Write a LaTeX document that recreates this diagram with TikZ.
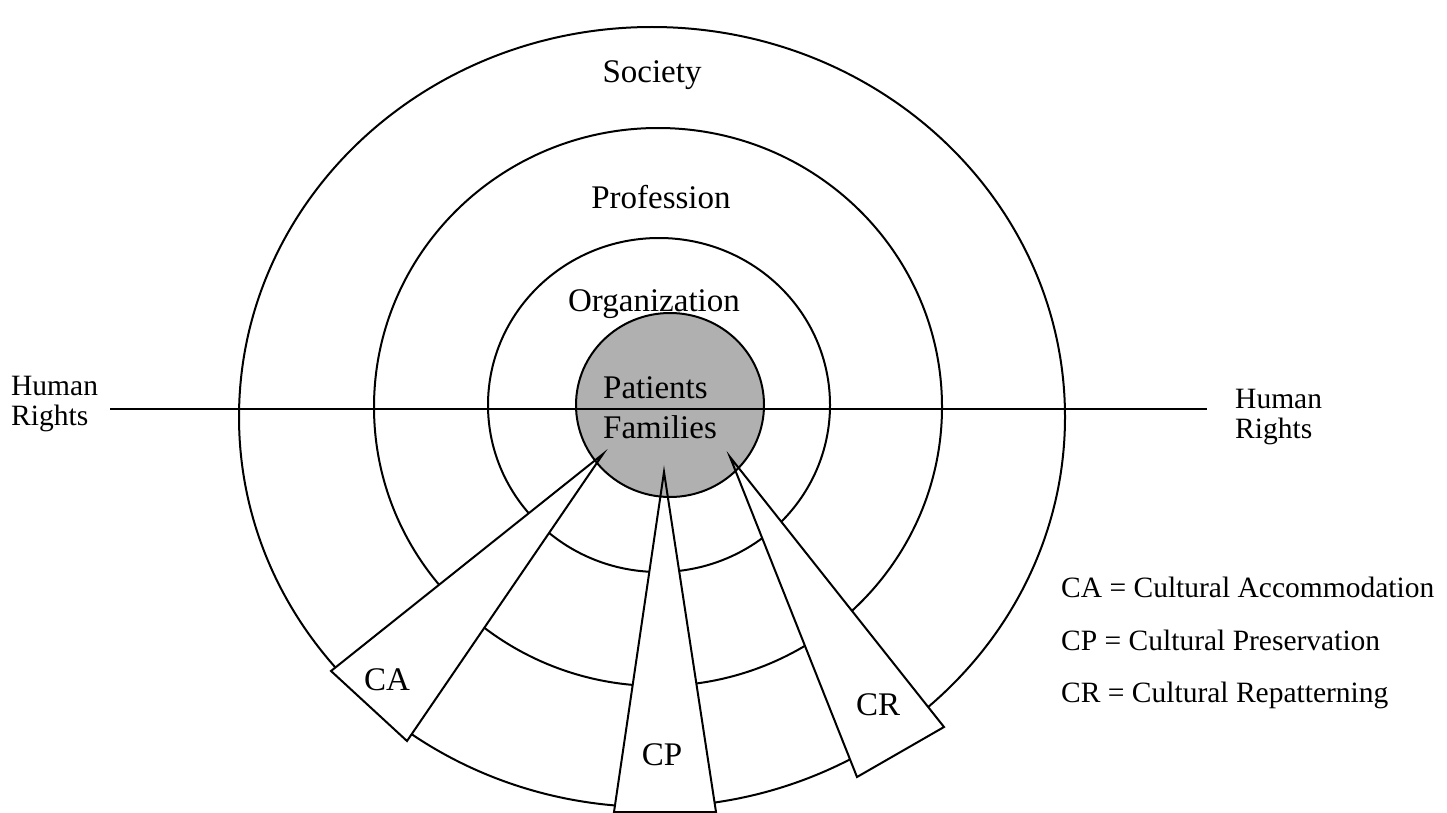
\documentclass[tikz,border=0pt]{standalone}
\usepackage{fontspec}
\setmainfont{Liberation Serif}
\tikzset{
  ring/.style={line width=2pt},
  wedge/.style={line width=2pt, line join=miter},
  lbl/.style={font=\fontsize{33}{36}\selectfont, inner sep=0pt, anchor=base},
  side/.style={font=\fontsize{29.5}{32}\selectfont, inner sep=0pt, anchor=base west},
}
\begin{document}
\begin{tikzpicture}[x=1pt, y=-1pt]
        \useasboundingbox (0,0) rectangle (1447,813);
        % the three rings
        \draw[ring] (652,417) ellipse [x radius=413pt, y radius=390pt];
        \draw[ring] (658,407) ellipse [x radius=284pt, y radius=279pt];
        \draw[ring] (659,405) ellipse [x radius=171pt, y radius=167pt];
        % wedges, white over the rings
        \fill[white] (603,454) -- (331,671) -- (407,741) -- cycle;
        \fill[white] (664,472) -- (614,812) -- (716,812) -- cycle;
        \fill[white] (730,457) -- (857,777) -- (944,727) -- cycle;
        % centre disk
        \filldraw[ring, fill=black!31] (670,405) ellipse [x radius=94pt, y radius=92pt];
        \draw[ring] (110,408.5) -- (1207,408.5);
        \draw[wedge] (603,454) -- (331,671) -- (407,741) -- cycle;
        \draw[wedge] (664,472) -- (614,812) -- (716,812) -- cycle;
        \draw[wedge] (730,457) -- (857,777) -- (944,727) -- cycle;
        % ring labels
        \node[lbl] (society) at (652,83) {Society};
        \node[lbl] (profession) at (661,208) {Profession};
        \node[lbl] (organization) at (654,311) {Organization};
        \node[lbl, anchor=base west] (patients) at (603,398) {Patients};
        \node[lbl, anchor=base west] (families) at (603,438) {Families};
        % wedge labels
        \node[lbl] (ca) at (387,690) {CA};
        \node[lbl] (cp) at (662,765) {CP};
        \node[lbl] (cr) at (878,715) {CR};
        % human rights, both ends of the line
        \node[side] (hrlefta) at (11,395) {Human};
        \node[side] (hrleftb) at (11,425) {Rights};
        \node[side] (hrrighta) at (1235,408) {Human};
        \node[side] (hrrightb) at (1235,438) {Rights};
        % key
        \node[side] (keyca) at (1061,597) {CA = Cultural Accommodation};
        \node[side] (keycp) at (1061,650) {CP = Cultural Preservation};
        \node[side] (keycr) at (1061,702) {CR = Cultural Repatterning};
      \end{tikzpicture}
\end{document}
